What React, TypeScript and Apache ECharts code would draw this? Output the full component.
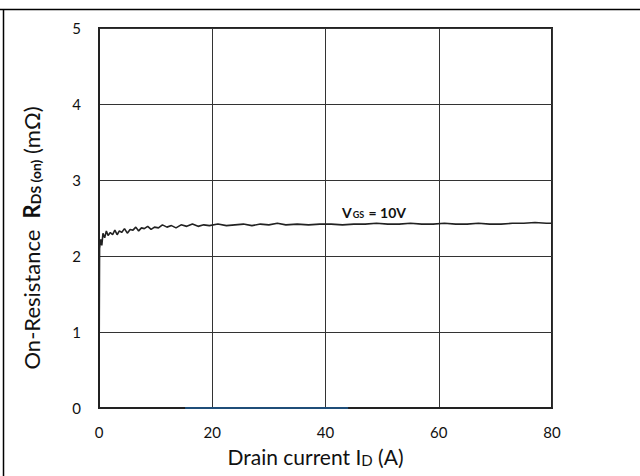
import React, { useEffect, useRef } from "react";
import * as echarts from "echarts";

const xTicks = [0, 20, 40, 60, 80];
const yTicks = [0, 1, 2, 3, 4, 5];

const current = [
  0, 0.05, 0.1, 0.3, 0.5, 0.7, 1.0, 1.3, 1.6, 2.0, 2.4, 2.8, 3.2, 3.6, 4.0, 4.5,
  5.0, 5.5, 6.0, 6.5, 7.0, 7.5, 8.0, 8.6, 9.2, 9.8, 10.5, 11.2, 12.0, 12.8, 13.6,
  14.5, 15.5, 16.5, 17.5, 18.5, 19.5, 21, 22.5, 24, 25.5, 27, 28.5, 30, 31.5, 33,
  35, 37, 39, 41, 43, 45, 47, 49, 51, 53, 55, 57, 59, 61, 63, 65, 67, 69, 71, 73,
  75, 77, 79, 80,
];
const resistance = [
  0, 1.2, 2.1, 2.22, 2.14, 2.3, 2.24, 2.33, 2.27, 2.31, 2.28, 2.34, 2.28, 2.33,
  2.31, 2.36, 2.3, 2.35, 2.34, 2.38, 2.33, 2.37, 2.36, 2.39, 2.35, 2.38, 2.37,
  2.41, 2.38, 2.4, 2.37, 2.41, 2.39, 2.42, 2.39, 2.41, 2.4, 2.42, 2.4, 2.41,
  2.42, 2.4, 2.42, 2.41, 2.43, 2.41, 2.42, 2.41, 2.42, 2.42, 2.41, 2.42, 2.42,
  2.43, 2.42, 2.42, 2.43, 2.42, 2.42, 2.43, 2.42, 2.42, 2.43, 2.42, 2.42, 2.43,
  2.43, 2.44, 2.43, 2.43,
];
const blueSegmentX = [15.2, 44];

const FONT = "Lato";

export default function App() {
  const ref = useRef<HTMLDivElement>(null);
  useEffect(() => {
    const chart = echarts.init(ref.current!, null, { renderer: "svg" });
    chart.setOption({
      animation: false,
      backgroundColor: "#ffffff",
      textStyle: { fontFamily: FONT },
      grid: {
        left: 99,
        top: 28,
        right: 88,
        bottom: 68,
        show: true,
        borderColor: "#222",
        borderWidth: 2,
      },
      xAxis: {
        type: "value",
        min: xTicks[0],
        max: xTicks[xTicks.length - 1],
        interval: 20,
        axisLine: { show: true, lineStyle: { color: "#222", width: 2 } },
        axisTick: { show: false },
        axisLabel: { color: "#111", fontSize: 15, margin: 16, fontFamily: FONT },
        splitLine: { show: true, lineStyle: { color: "#333", width: 1 } },
        name: "{a|Drain current I}{s|D}{a| (A)}",
        nameLocation: "middle",
        nameGap: 38,
        nameTextStyle: {
          padding: [0, 20, 0, 0],
          rich: {
            a: { fontSize: 21, color: "#111", fontFamily: FONT, verticalAlign: "bottom" },
            s: { fontSize: 15, color: "#111", fontFamily: FONT, verticalAlign: "bottom" },
          },
        },
      },
      yAxis: {
        type: "value",
        min: yTicks[0],
        max: yTicks[yTicks.length - 1],
        interval: 1,
        axisLine: { show: true, lineStyle: { color: "#222", width: 2 } },
        axisTick: { show: false },
        axisLabel: { color: "#111", fontSize: 15, margin: 18, fontFamily: FONT },
        splitLine: { show: true, lineStyle: { color: "#333", width: 1 } },
      },
      graphic: [
        {
          type: "line",
          shape: { x1: 0, y1: 9.5, x2: 640, y2: 9.5 },
          style: { stroke: "#000", lineWidth: 1.5 },
        },
        {
          type: "line",
          shape: { x1: 3.5, y1: 9, x2: 3.5, y2: 476 },
          style: { stroke: "#000", lineWidth: 1.5 },
        },
        {
          type: "text",
          x: 31,
          y: 238,
          rotation: Math.PI / 2,
          style: {
            text: "{n|On-Resistance  }{b|R}{s|DS (on)}{n| (mΩ)}",
            align: "center",
            verticalAlign: "middle",
            rich: {
              n: { fontSize: 22, fill: "#111", fontFamily: FONT, verticalAlign: "bottom" },
              b: { fontSize: 22, fill: "#111", fontFamily: FONT, fontWeight: "bold", verticalAlign: "bottom" },
              s: { fontSize: 14, fill: "#111", fontFamily: FONT, fontWeight: "bold", verticalAlign: "bottom" },
            },
          },
        },
        {
          type: "text",
          x: 342,
          y: 212,
          style: {
            text: "{v|V}{s|GS}{v| = 10V}",
            align: "left",
            verticalAlign: "middle",
            rich: {
              v: { fontSize: 14, fill: "#111", fontFamily: FONT, fontWeight: "bold", verticalAlign: "bottom" },
              s: { fontSize: 9, fill: "#111", fontFamily: FONT, fontWeight: "bold", verticalAlign: "bottom", padding: [0, 1, 0, 1] },
            },
          },
        },
      ],
      series: [
        {
          type: "line",
          data: blueSegmentX.map((x) => [x, 0]),
          showSymbol: false,
          clip: false,
          lineStyle: { color: "#1f4e79", width: 2 },
          z: 10,
          zlevel: 1,
        },
        {
          type: "line",
          data: current.map((c, i) => [c, resistance[i]]),
          showSymbol: false,
          lineStyle: { color: "#222", width: 1.6 },
          z: 4,
        },
      ],
    });
    return () => chart.dispose();
  }, []);
  return (
    <div
      ref={ref}
      style={{ position: "fixed", left: 0, top: 0, width: 640, height: 476 }}
    />
  );
}
